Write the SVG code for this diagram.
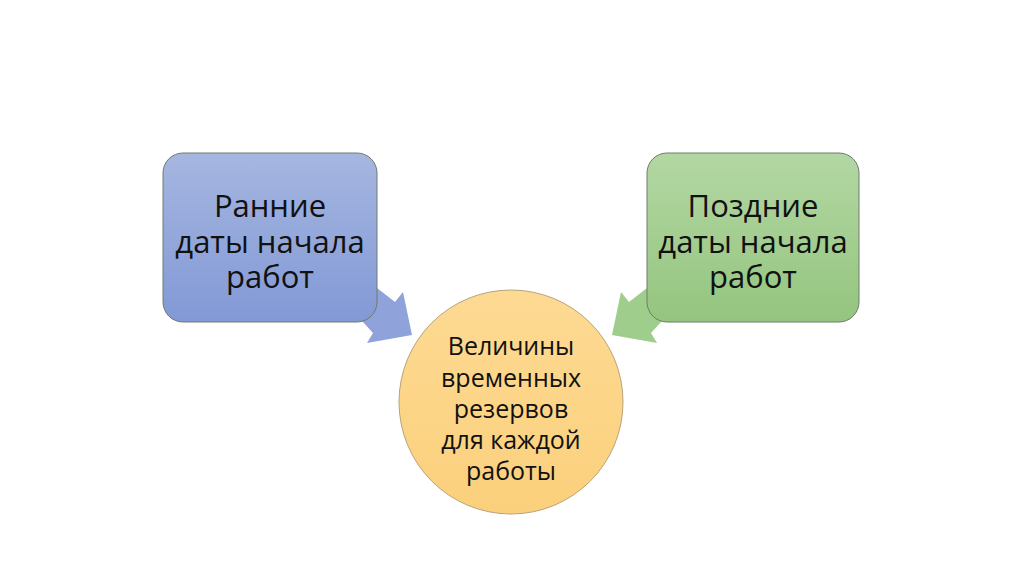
<svg xmlns="http://www.w3.org/2000/svg" width="1024" height="574" viewBox="0 0 1024 574">
  <defs>
    <linearGradient id="gBlue" x1="0" y1="0" x2="0" y2="1">
      <stop offset="0" stop-color="#a6b6e0"/>
      <stop offset="1" stop-color="#8299d6"/>
    </linearGradient>
    <linearGradient id="gGreen" x1="0" y1="0" x2="0" y2="1">
      <stop offset="0" stop-color="#b3d7a3"/>
      <stop offset="1" stop-color="#94c57f"/>
    </linearGradient>
    <linearGradient id="gGold" x1="0" y1="0" x2="0" y2="1">
      <stop offset="0" stop-color="#fdda93"/>
      <stop offset="1" stop-color="#fbd07c"/>
    </linearGradient>
  </defs>
  <style>
    .box { stroke: #6f7a6f; stroke-width: 1; }
    .circ { stroke: #b8a37a; stroke-width: 1; }
    .big { font-family: "Open Sans", "Noto Sans", sans-serif; font-size: 31px; fill: #111; text-anchor: middle; }
    .small { font-family: "Open Sans", "Noto Sans", sans-serif; font-size: 25px; fill: #111; text-anchor: middle; }
  </style>
  <rect width="1024" height="574" fill="#ffffff"/>
  <g id="connectors">
    <polygon points="341,260 395,302 403,292 412,335 367,343 373,333 333,289" fill="#8fa2d9"/>
    <polygon points="683,260 629,302 621,292 612,335 657,343 651,333 691,289" fill="#9fcd8b"/>
  </g>
  <g id="node-early">
    <rect class="box" x="163" y="153" width="214" height="169" rx="20" ry="20" fill="url(#gBlue)"/>
    <text class="big" x="270" y="217">Ранние</text>
    <text class="big" x="270" y="253">даты начала</text>
    <text class="big" x="270" y="288">работ</text>
  </g>
  <g id="node-late">
    <rect class="box" x="647" y="153" width="212" height="169" rx="20" ry="20" fill="url(#gGreen)"/>
    <text class="big" x="753" y="217">Поздние</text>
    <text class="big" x="753" y="253">даты начала</text>
    <text class="big" x="753" y="288">работ</text>
  </g>
  <g id="node-reserves">
    <circle class="circ" cx="511" cy="402" r="112" fill="url(#gGold)"/>
    <text class="small" x="511" y="355">Величины</text>
    <text class="small" x="511" y="387">временных</text>
    <text class="small" x="511" y="418">резервов</text>
    <text class="small" x="511" y="449">для каждой</text>
    <text class="small" x="511" y="480">работы</text>
  </g>
</svg>
